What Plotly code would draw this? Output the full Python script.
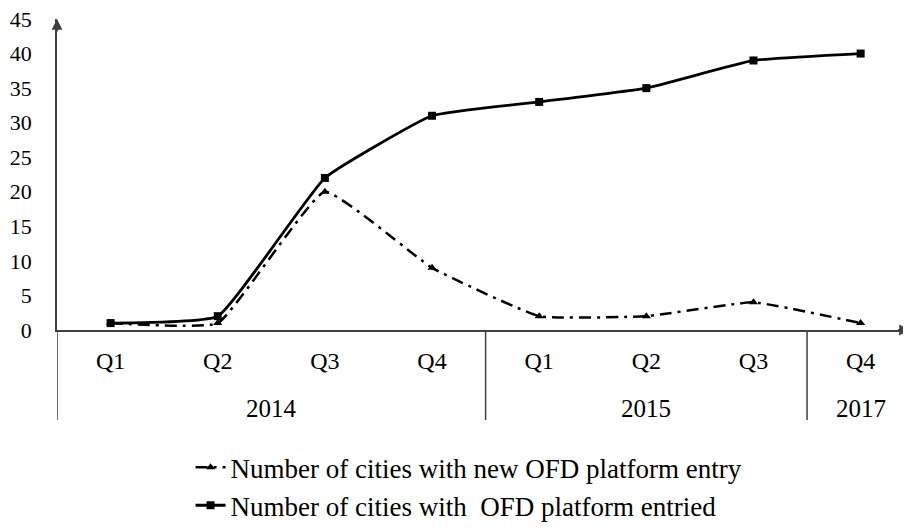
import plotly.graph_objects as go

years = ["2014", "2014", "2014", "2014", "2015", "2015", "2015", "2017"]
quarters = ["Q1", "Q2", "Q3", "Q4", "Q1", "Q2", "Q3", "Q4"]
new_entry = [1, 1, 20, 9, 2, 2, 4, 1]
total_entry = [1, 2, 22, 31, 33, 35, 39, 40]
y_ticks = [0, 5, 10, 15, 20, 25, 30, 35, 40, 45]

FONT = "Liberation Serif, Times New Roman, DejaVu Serif, serif"
AX = "#404040"
xpos = list(range(len(quarters)))

fig = go.Figure()
fig.add_trace(go.Scatter(
    x=xpos, y=new_entry, mode="lines+markers",
    name="Number of cities with new OFD platform entry",
    legendgroup="a",
    line=dict(color="black", width=2.5, dash="12px,6px,3px,6px", shape="spline", smoothing=0.35),
    marker=dict(symbol="triangle-up", size=8, color="black"),
))
fig.add_trace(go.Scatter(
    x=xpos, y=total_entry, mode="lines+markers",
    name="Number of cities with  OFD platform entried",
    legendgroup="b",
    line=dict(color="black", width=2.8, shape="spline", smoothing=0.35),
    marker=dict(symbol="square", size=8, color="black"),
))

# group boundaries and centres from the year list
groups = []
start = 0
for i in range(1, len(years) + 1):
    if i == len(years) or years[i] != years[start]:
        groups.append((years[start], start, i - 1))
        start = i

shapes = []
annotations = []
for name, a, b in groups:
    annotations.append(dict(x=(a + b) / 2, xref="x", y=0, yref="paper",
                            yanchor="middle", yshift=-78, text=name,
                            showarrow=False, font=dict(family=FONT, size=25, color="black")))
    shapes.append(dict(type="line", xref="x", yref="paper", x0=a - 0.5, x1=a - 0.5,
                       y0=0, y1=-90 / 311, line=dict(color=AX, width=1.5)))

# axis arrows
annotations.append(dict(xref="paper", yref="paper", x=0, y=1.0, ax=0, ay=14,
                        showarrow=True, arrowhead=2, arrowsize=1.2, arrowwidth=1.8,
                        arrowcolor=AX, text=""))
annotations.append(dict(xref="paper", yref="paper", x=0.9995, y=0, ax=-14, ay=0,
                        showarrow=True, arrowhead=2, arrowsize=1.2, arrowwidth=1.8,
                        arrowcolor=AX, text=""))

fig.update_layout(
    width=903, height=520,
    margin=dict(l=49, r=0, t=11, b=198, autoexpand=False),
    paper_bgcolor="white", plot_bgcolor="white",
    font=dict(family=FONT, size=24, color="black"),
    showlegend=True,
    legend=dict(x=0.1564, xanchor="left", y=-0.3636, yanchor="top",
                font=dict(family=FONT, size=27, color="black"),
                tracegroupgap=0, bgcolor="rgba(0,0,0,0)"),
    xaxis=dict(range=[-0.5, 7.47], tickvals=xpos, ticktext=quarters, showline=True,
               linecolor=AX, linewidth=1.8, showgrid=False, zeroline=False,
               ticks="", ticklabelstandoff=8, automargin=False,
               tickfont=dict(family=FONT, size=24, color="black")),
    yaxis=dict(range=[0, 45], tickvals=y_ticks, showline=True, linecolor=AX,
               linewidth=1.8, showgrid=False, zeroline=False, ticks="",
               ticklabelstandoff=19, automargin=False, ticklabeloverflow="allow",
               tickfont=dict(family=FONT, size=22, color="black")),
    shapes=shapes,
    annotations=annotations,
)

fig.write_html("out.html")
